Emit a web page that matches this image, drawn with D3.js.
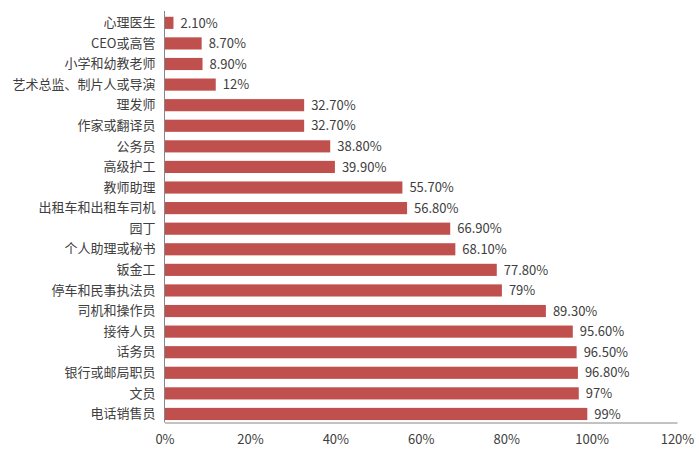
<!DOCTYPE html>
<html><head><meta charset="utf-8">
<script src="https://cdn.jsdelivr.net/npm/d3@7"></script>
<style>body{margin:0;background:#fff;} svg{display:block;}</style>
</head><body>
<svg id="chart" width="699" height="457"></svg>
<script>
const categories = ["心理医生","CEO或高管","小学和幼教老师","艺术总监、制片人或导演","理发师","作家或翻译员","公务员","高级护工","教师助理","出租车和出租车司机","园丁","个人助理或秘书","钣金工","停车和民事执法员","司机和操作员","接待人员","话务员","银行或邮局职员","文员","电话销售员"];
const values = [2.1,8.7,8.9,12,32.7,32.7,38.8,39.9,55.7,56.8,66.9,68.1,77.8,79,89.3,95.6,96.5,96.8,97,99];
const valueLabels = ["2.10%","8.70%","8.90%","12%","32.70%","32.70%","38.80%","39.90%","55.70%","56.80%","66.90%","68.10%","77.80%","79%","89.30%","95.60%","96.50%","96.80%","97%","99%"];
const tickValues = [0,20,40,60,80,100,120];

(function(){
const svg = d3.select("#chart");
const font = "'Noto Sans CJK SC', 'Noto Sans', sans-serif";
const pLeft = 164.5, pRight = 677, pTop = 11, pBottom = 422.5;
const x = d3.scaleLinear().domain([0,120]).range([pLeft,pRight]);
const y = d3.scaleBand().domain(categories).range([pTop,pBottom]).paddingInner(0.41).paddingOuter(0.2).align(0.7);

svg.append("g").selectAll("rect").data(values).join("rect")
  .attr("x", x(0)).attr("y",(d,i)=>y(categories[i]))
  .attr("width", d=>x(d)-x(0)).attr("height", y.bandwidth())
  .attr("fill","#C0504D");

svg.append("g").selectAll("text").data(values).join("text")
  .attr("x", d=>x(d)+7).attr("y",(d,i)=>y(categories[i])+y.bandwidth()/2)
  .attr("dy","0.36em").attr("font-family",font).attr("font-size",13).attr("fill","#404040")
  .text((d,i)=>valueLabels[i]);

const ya = svg.append("g").attr("transform",`translate(${pLeft},0)`)
  .call(d3.axisLeft(y).tickSize(0).tickPadding(9));
ya.select(".domain").attr("stroke","#868686").attr("d",`M0,${pTop}V${pBottom}`);
ya.selectAll("text").attr("font-family",font).attr("font-size",13).attr("fill","#404040");

const xa = svg.append("g").attr("transform",`translate(0,${pBottom})`)
  .call(d3.axisBottom(x).tickValues(tickValues).tickSize(0).tickPadding(12).tickFormat(d=>d+"%"));
xa.select(".domain").attr("stroke","#868686");
xa.selectAll("text").attr("font-family",font).attr("font-size",13).attr("fill","#404040");
})();
</script>
</body></html>
